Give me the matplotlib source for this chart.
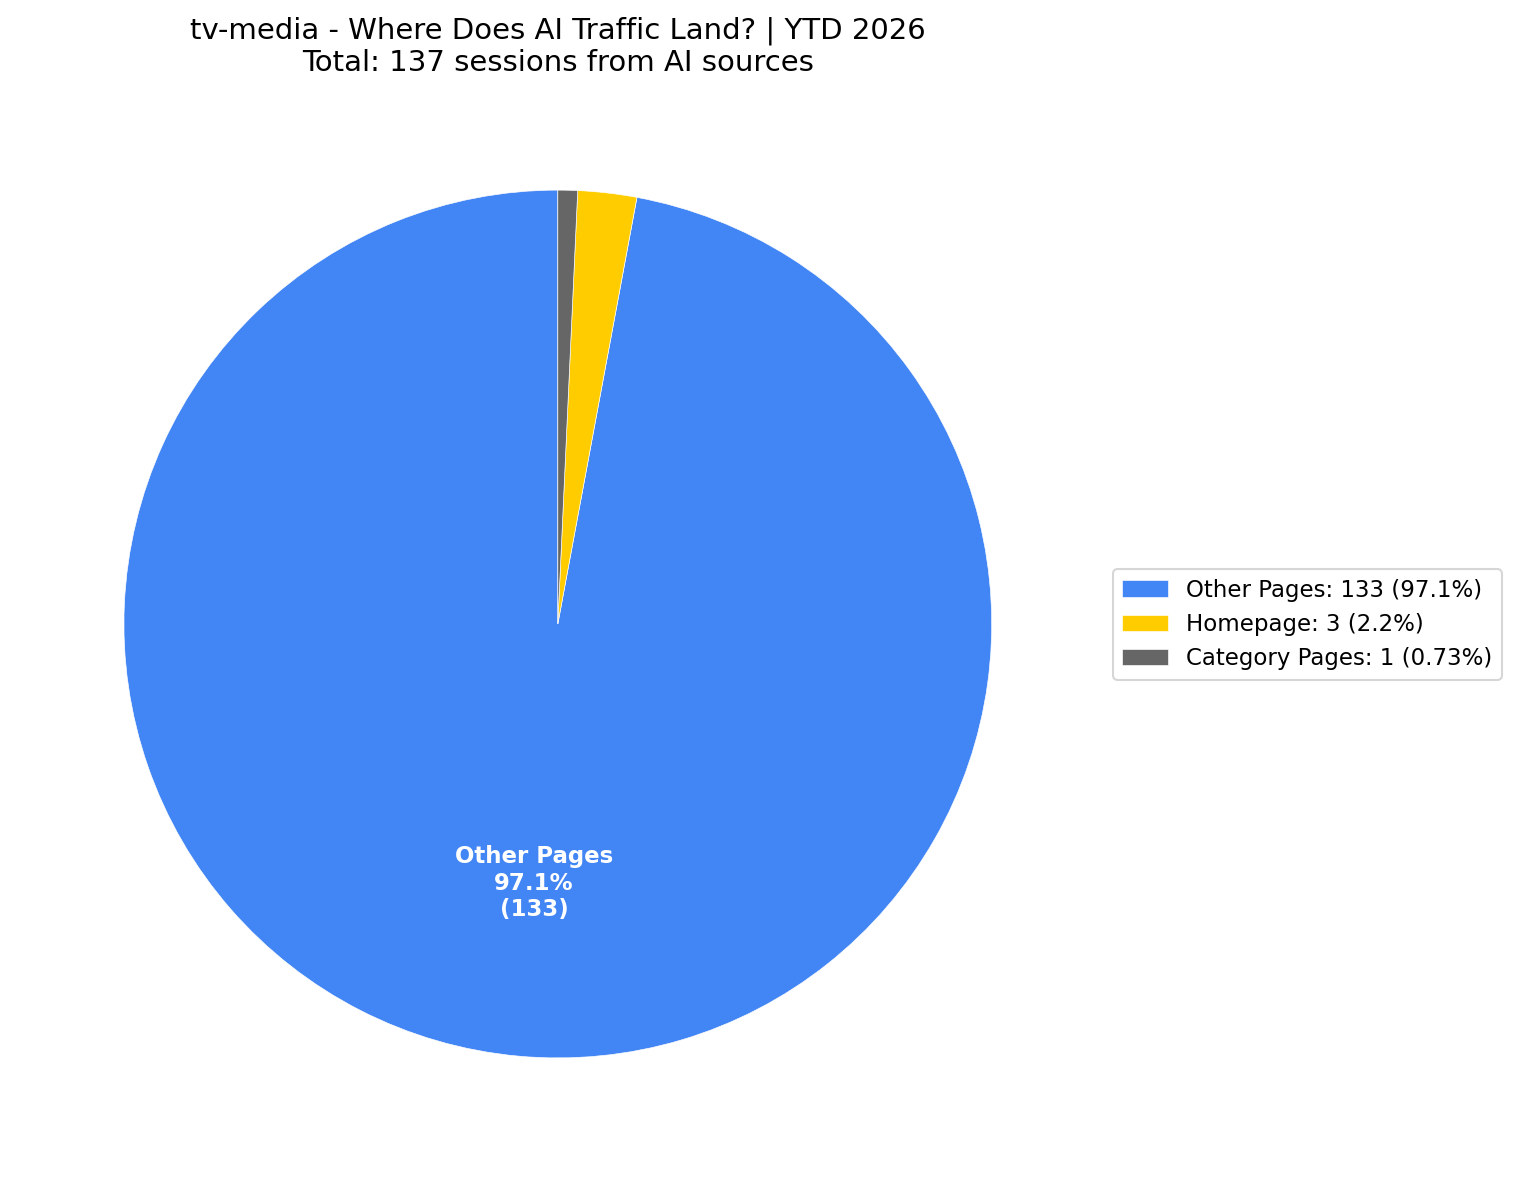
import matplotlib
matplotlib.use("Agg")
import matplotlib.pyplot as plt
import numpy as np

site = "tv-media"
period = "YTD 2026"
categories = ["Other Pages", "Homepage", "Category Pages"]
sessions = [133, 3, 1]
colors = ["#4285F4", "#FFCC00", "#666666"]

total = sum(sessions)
shares = [s / total * 100 for s in sessions]


def fmt_pct(p):
    return f"{p:.2g}%" if p < 1 else f"{p:.1f}%"


fig = plt.figure(figsize=(10.1, 7.887), dpi=150)
ax = fig.add_axes([0.0102, 0.014, 0.716, 0.917])

wedges, _ = ax.pie(sessions, colors=colors, startangle=90,
                   wedgeprops={"edgecolor": "white", "linewidth": 0.3})

# only label the big slice inside the pie
for w, cat, s, p in zip(wedges, categories, sessions, shares):
    if p < 10:
        continue
    ang = np.deg2rad((w.theta1 + w.theta2) / 2)
    ax.text(0.6 * np.cos(ang), 0.6 * np.sin(ang), f"{cat}\n{p:.1f}%\n({s})",
            ha="center", va="center", color="white", fontsize=11,
            fontweight="bold")

ax.set_aspect("equal")

legend_labels = [f"{c}: {s} ({fmt_pct(p)})" for c, s, p in zip(categories, sessions, shares)]
fig.legend(wedges, legend_labels, loc="center left",
           bbox_to_anchor=(1113 / 1515, 1 - 624.5 / 1183),
           borderaxespad=0, fontsize=11)

fig.text(558 / 1515, 1 - 16 / 1183,
         f"{site} - Where Does AI Traffic Land? | {period}\nTotal: {total} sessions from AI sources",
         ha="center", va="top", fontsize=14)

fig.savefig("out.png", dpi=150)
